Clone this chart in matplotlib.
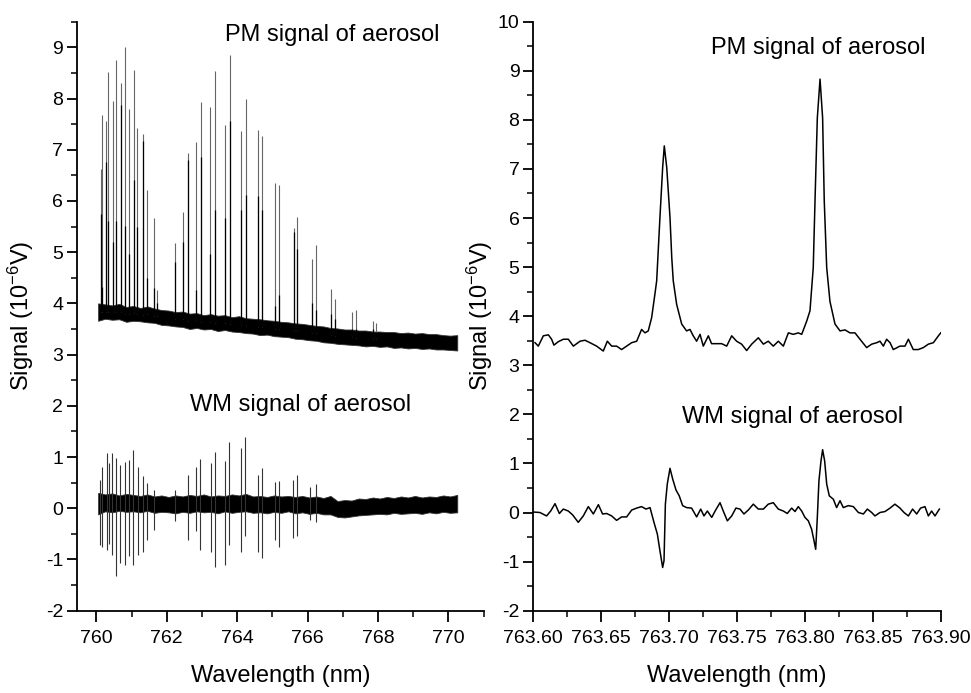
import numpy as np
import matplotlib
matplotlib.use("Agg")
import matplotlib.pyplot as plt
from matplotlib.ticker import MultipleLocator, FormatStrFormatter

plt.rcParams['font.family'] = ['Liberation Sans', 'DejaVu Sans']
plt.rcParams['axes.unicode_minus'] = False
plt.rcParams['mathtext.fontset'] = 'custom'
plt.rcParams['mathtext.rm'] = 'Liberation Sans'
plt.rcParams['mathtext.it'] = 'Liberation Sans:italic'
plt.rcParams['mathtext.bf'] = 'Liberation Sans:bold'

# ---------------- Left panel data (760-770 nm scan) ----------------
# noise band of the baseline, read on a 0.2 nm grid
band_wl = [760.05 + 0.2 * k for k in range(52)]
pm_band_hi = [4.00, 3.98, 3.96, 3.99, 3.93, 3.95, 3.91, 3.94, 3.90, 3.87,
              3.86, 3.83, 3.84, 3.80, 3.81, 3.77, 3.79, 3.76, 3.77, 3.73,
              3.75, 3.71, 3.70, 3.69, 3.67, 3.66, 3.64, 3.63, 3.61, 3.60,
              3.58, 3.56, 3.55, 3.52, 3.51, 3.49, 3.49, 3.47, 3.47, 3.45,
              3.45, 3.44, 3.44, 3.42, 3.43, 3.41, 3.42, 3.40, 3.40, 3.38,
              3.37, 3.38]
pm_band_lo = [3.66, 3.70, 3.68, 3.69, 3.64, 3.66, 3.65, 3.63, 3.62, 3.58,
              3.57, 3.55, 3.54, 3.50, 3.52, 3.49, 3.50, 3.46, 3.48, 3.45,
              3.44, 3.42, 3.41, 3.38, 3.39, 3.36, 3.35, 3.34, 3.31, 3.30,
              3.28, 3.27, 3.24, 3.23, 3.21, 3.20, 3.19, 3.18, 3.16, 3.17,
              3.15, 3.16, 3.13, 3.14, 3.12, 3.13, 3.11, 3.12, 3.10, 3.10,
              3.09, 3.08]
wm_band_hi = [0.30, 0.27, 0.29, 0.25, 0.28, 0.26, 0.24, 0.27, 0.23, 0.25,
              0.22, 0.25, 0.23, 0.26, 0.24, 0.27, 0.23, 0.25, 0.24, 0.27,
              0.25, 0.28, 0.23, 0.24, 0.22, 0.25, 0.23, 0.24, 0.22, 0.24,
              0.21, 0.23, 0.20, 0.24, 0.14, 0.16, 0.15, 0.19, 0.18, 0.21,
              0.19, 0.22, 0.20, 0.23, 0.21, 0.24, 0.21, 0.23, 0.22, 0.25,
              0.23, 0.26]
wm_band_lo = [-0.12, -0.06, -0.08, -0.05, -0.07, -0.06, -0.08, -0.05, -0.09, -0.07,
              -0.08, -0.10, -0.07, -0.09, -0.06, -0.08, -0.07, -0.10, -0.06, -0.09,
              -0.07, -0.06, -0.09, -0.08, -0.10, -0.07, -0.09, -0.06, -0.10, -0.08,
              -0.11, -0.09, -0.12, -0.12, -0.17, -0.18, -0.16, -0.14, -0.13, -0.12,
              -0.11, -0.12, -0.09, -0.11, -0.10, -0.09, -0.11, -0.08, -0.10, -0.07,
              -0.09, -0.08]

# absorption lines in the PM signal: position, tip height, dark core height
pm_line_wl = [760.13, 760.16, 760.28, 760.33, 760.46, 760.57, 760.69, 760.80,
              760.93, 761.06, 761.16, 761.33, 761.45, 761.65, 761.73, 762.24,
              762.47, 762.59, 762.84, 762.96, 763.23, 763.36, 763.66, 763.79,
              764.12, 764.25, 764.58, 764.70, 765.08, 765.19, 765.60, 765.70,
              766.13, 766.24, 766.67, 766.78, 767.26, 767.37, 767.85, 767.95]
pm_line_top = [6.63, 7.68, 7.56, 8.51, 7.95, 8.75, 8.31, 9.01,
               7.79, 8.56, 7.43, 7.30, 6.21, 5.67, 4.27, 5.17,
               5.79, 6.93, 7.16, 7.93, 7.84, 8.53, 7.49, 8.85,
               7.36, 7.99, 7.39, 7.26, 6.36, 6.31, 5.47, 5.69,
               4.86, 5.14, 4.28, 4.09, 3.84, 3.88, 3.66, 3.62]
pm_line_core = [5.75, 4.32, 6.76, 5.60, 5.20, 5.60, 7.88, 5.51,
                4.97, 6.40, 5.50, 7.18, 4.50, 4.30, 4.00, 4.80,
                5.19, 6.80, 4.26, 6.86, 4.96, 5.82, 5.66, 7.57,
                5.82, 6.11, 6.09, 5.83, 3.94, 4.16, 5.40, 5.07,
                4.00, 3.88, 3.80, 3.70, 3.50, 3.50, 3.50, 3.45]

# WM signal lines: position, positive lobe, negative lobe
wm_line_wl = [760.10, 760.17, 760.31, 760.36, 760.45, 760.56, 760.67, 760.80,
              760.93, 761.05, 761.17, 761.32, 761.45, 761.64, 762.23, 762.59,
              762.83, 762.95, 763.25, 763.36, 763.65, 763.78, 764.12, 764.22,
              764.58, 764.71, 765.08, 765.19, 765.58, 765.71, 766.07, 766.23]
wm_line_top = [0.55, 0.80, 1.07, 0.88, 1.07, 0.98, 0.85, 0.91,
               0.94, 1.14, 0.81, 0.62, 0.50, 0.36, 0.36, 0.65,
               0.80, 0.96, 0.88, 1.09, 0.93, 1.30, 1.17, 1.40,
               0.65, 0.78, 0.52, 0.54, 0.55, 0.65, 0.42, 0.47]
wm_line_bot = [-0.72, -0.75, -0.81, -0.70, -0.91, -1.33, -1.07, -1.11,
               -0.94, -1.11, -0.91, -0.85, -0.62, -0.42, -0.25, -0.62,
               -0.45, -0.81, -0.85, -1.14, -1.11, -0.72, -0.85, -0.55,
               -0.85, -0.98, -0.62, -0.75, -0.59, -0.55, -0.23, -0.26]

# ---------------- Right panel data (zoom 763.60-763.90 nm) ----------------
pm_zoom_wl = [763.6013, 763.6037, 763.6074, 763.6111, 763.6135, 763.6152, 763.6184,
              763.6221, 763.6258, 763.6295, 763.6344, 763.6380, 763.6417, 763.6466,
              763.6515, 763.6545, 763.6577, 763.6613, 763.6650, 763.6687, 763.6724,
              763.6761, 763.6797, 763.6822, 763.6846, 763.6871, 763.6895, 763.6908,
              763.6932, 763.6952, 763.6964, 763.6982, 763.7006, 763.7019, 763.7030,
              763.7055, 763.7092, 763.7128, 763.7153, 763.7177, 763.7202, 763.7227,
              763.7251, 763.7288, 763.7312, 763.7349, 763.7386, 763.7423, 763.7460,
              763.7496, 763.7533, 763.7570, 763.7607, 763.7656, 763.7693, 763.7729,
              763.7766, 763.7803, 763.7840, 763.7877, 763.7913, 763.7950, 763.7975,
              763.8012, 763.8036, 763.8060, 763.8073, 763.8090, 763.8110, 763.8129,
              763.8141, 763.8159, 763.8183, 763.8220, 763.8257, 763.8294, 763.8330,
              763.8367, 763.8404, 763.8453, 763.8490, 763.8527, 763.8551, 763.8576,
              763.8600, 763.8625, 763.8649, 763.8698, 763.8735, 763.8760, 763.8796,
              763.8833, 763.8870, 763.8907, 763.8944, 763.8981, 763.8998]
pm_zoom = [3.46, 3.39, 3.60, 3.62, 3.53, 3.41, 3.48,
           3.53, 3.53, 3.39, 3.49, 3.51, 3.46, 3.39,
           3.29, 3.49, 3.39, 3.39, 3.32, 3.39, 3.46,
           3.49, 3.73, 3.66, 3.70, 3.97, 4.45, 4.72,
           6.01, 7.03, 7.47, 7.03, 6.01, 5.19, 4.72,
           4.24, 3.84, 3.70, 3.73, 3.60, 3.49, 3.63,
           3.39, 3.60, 3.44, 3.44, 3.44, 3.39, 3.60,
           3.49, 3.43, 3.30, 3.43, 3.56, 3.43, 3.49,
           3.39, 3.49, 3.39, 3.66, 3.63, 3.66, 3.63,
           3.90, 4.11, 4.99, 6.35, 8.04, 8.83, 8.04,
           6.35, 4.99, 4.30, 3.84, 3.70, 3.72, 3.66,
           3.66, 3.53, 3.36, 3.43, 3.46, 3.49, 3.39,
           3.53, 3.46, 3.32, 3.39, 3.39, 3.53, 3.32,
           3.32, 3.36, 3.43, 3.46, 3.60, 3.66]

wm_zoom_wl = [763.6000, 763.6049, 763.6098, 763.6128, 763.6160, 763.6192, 763.6221,
              763.6258, 763.6290, 763.6331, 763.6368, 763.6405, 763.6442, 763.6479,
              763.6510, 763.6540, 763.6577, 763.6613, 763.6650, 763.6687, 763.6724,
              763.6761, 763.6797, 763.6829, 763.6859, 763.6888, 763.6913, 763.6932,
              763.6952, 763.6962, 763.6972, 763.6986, 763.7006, 763.7026, 763.7050,
              763.7074, 763.7099, 763.7128, 763.7165, 763.7202, 763.7232, 763.7256,
              763.7281, 763.7313, 763.7342, 763.7374, 763.7398, 763.7428, 763.7460,
              763.7491, 763.7521, 763.7550, 763.7582, 763.7619, 763.7656, 763.7693,
              763.7729, 763.7766, 763.7803, 763.7840, 763.7869, 763.7901, 763.7926,
              763.7950, 763.7975, 763.7999, 763.8024, 763.8048, 763.8066, 763.8078,
              763.8090, 763.8102, 763.8117, 763.8129, 763.8144, 763.8159, 763.8178,
              763.8208, 763.8232, 763.8257, 763.8281, 763.8318, 763.8355, 763.8392,
              763.8429, 763.8458, 763.8490, 763.8514, 763.8551, 763.8588, 763.8625,
              763.8661, 763.8698, 763.8728, 763.8760, 763.8791, 763.8821, 763.8850,
              763.8882, 763.8907, 763.8931, 763.8956, 763.8988]
wm_zoom = [0.01, 0.00, -0.07, 0.03, 0.18, -0.02, 0.07,
           0.03, -0.05, -0.20, -0.07, 0.12, -0.03, 0.16,
           -0.03, -0.02, -0.07, -0.16, -0.09, -0.09, 0.05,
           0.09, 0.12, 0.07, 0.10, -0.20, -0.44, -0.78,
           -1.12, -0.98, 0.17, 0.58, 0.90, 0.68, 0.46,
           0.34, 0.14, 0.10, 0.09, -0.09, 0.07, -0.07,
           0.03, -0.10, 0.05, 0.20, 0.03, -0.17, -0.07,
           0.09, 0.07, -0.03, 0.05, 0.17, 0.07, 0.07,
           0.17, 0.20, 0.07, 0.03, -0.02, 0.09, 0.02,
           0.12, 0.03, -0.10, -0.17, -0.34, -0.58, -0.75,
           -0.10, 0.65, 1.05, 1.28, 1.05, 0.58, 0.34,
           0.27, 0.10, 0.24, 0.10, 0.14, 0.12, 0.00,
           -0.03, 0.07, 0.00, -0.07, 0.00, 0.02, 0.09,
           0.17, 0.09, 0.00, -0.07, 0.07, -0.03, 0.09,
           0.12, -0.07, 0.03, -0.07, 0.07]

left_xticks = [760, 762, 764, 766, 768, 770]
right_xticks = [763.60, 763.65, 763.70, 763.75, 763.80, 763.85, 763.90]

# ---------------- Figure ----------------
fig = plt.figure(figsize=(9.71, 6.93), dpi=100)
ax1 = fig.add_axes([0.0793, 0.1188, 0.4188, 0.8499])
ax2 = fig.add_axes([0.5492, 0.1188, 0.4199, 0.8499])

TXT = 17
TICK = 14

# left panel
pm_center = (np.array(pm_band_hi) + np.array(pm_band_lo)) / 2
pm_base = np.interp(pm_line_wl, band_wl, pm_center)
ax1.vlines(pm_line_wl, pm_base, pm_line_top, color='0.4', lw=0.8)
ax1.vlines(pm_line_wl, pm_base, pm_line_core, color='black', lw=0.9)
ax1.fill_between(band_wl, pm_band_lo, pm_band_hi, facecolor='black', lw=0.6,
                 edgecolor='0.2')
ax1.vlines(wm_line_wl, wm_line_bot, wm_line_top, color='0.2', lw=0.8)
ax1.fill_between(band_wl, wm_band_lo, wm_band_hi, facecolor='black', lw=0.6,
                 edgecolor='0.2')

ax1.set_xlim(759.45, 771.0)
ax1.set_ylim(-2, 9.5)
ax1.set_xticks(left_xticks)
ax1.xaxis.set_minor_locator(MultipleLocator(1))
ax1.yaxis.set_major_locator(MultipleLocator(1))
ax1.yaxis.set_minor_locator(MultipleLocator(0.5))
ax1.text(766.69, 9.13, 'PM signal of aerosol', ha='center', va='baseline', fontsize=TXT)
ax1.text(765.79, 1.90, 'WM signal of aerosol', ha='center', va='baseline', fontsize=TXT)

# right panel
ax2.plot(pm_zoom_wl, pm_zoom, color='black', lw=1.1)
ax2.plot(wm_zoom_wl, wm_zoom, color='black', lw=1.1)
ax2.set_xlim(763.6, 763.9)
ax2.set_ylim(-2, 10)
ax2.set_xticks(right_xticks)
ax2.xaxis.set_major_formatter(FormatStrFormatter('%.2f'))
ax2.xaxis.set_minor_locator(MultipleLocator(0.025))
ax2.yaxis.set_major_locator(MultipleLocator(1))
ax2.yaxis.set_minor_locator(MultipleLocator(0.5))
ax2.text(763.8099, 9.35, 'PM signal of aerosol', ha='center', va='baseline', fontsize=TXT)
ax2.text(763.7907, 1.83, 'WM signal of aerosol', ha='center', va='baseline', fontsize=TXT)

for ax, lx in ((ax1, -0.10), (ax2, -0.094)):
    for s in ('top', 'right'):
        ax.spines[s].set_visible(False)
    for s in ('left', 'bottom'):
        ax.spines[s].set_linewidth(1.3)
    ax.tick_params(which='major', direction='out', length=7, width=1.3,
                   labelsize=TICK, pad=3)
    ax.tick_params(which='minor', direction='out', length=4, width=1.1)
    ax.tick_params(axis='x', which='major', length=8, pad=6)
    ax.set_xlabel('Wavelength (nm)', fontsize=TXT)
    ax.set_ylabel('Signal (10$^{-6}$V)', fontsize=TXT)
    ax.yaxis.set_label_coords(lx, 0.5)
    ax.xaxis.set_label_coords(0.5, -0.092)
    ax.xaxis.label.set_va('top')

fig.savefig('out.png', dpi=100)
